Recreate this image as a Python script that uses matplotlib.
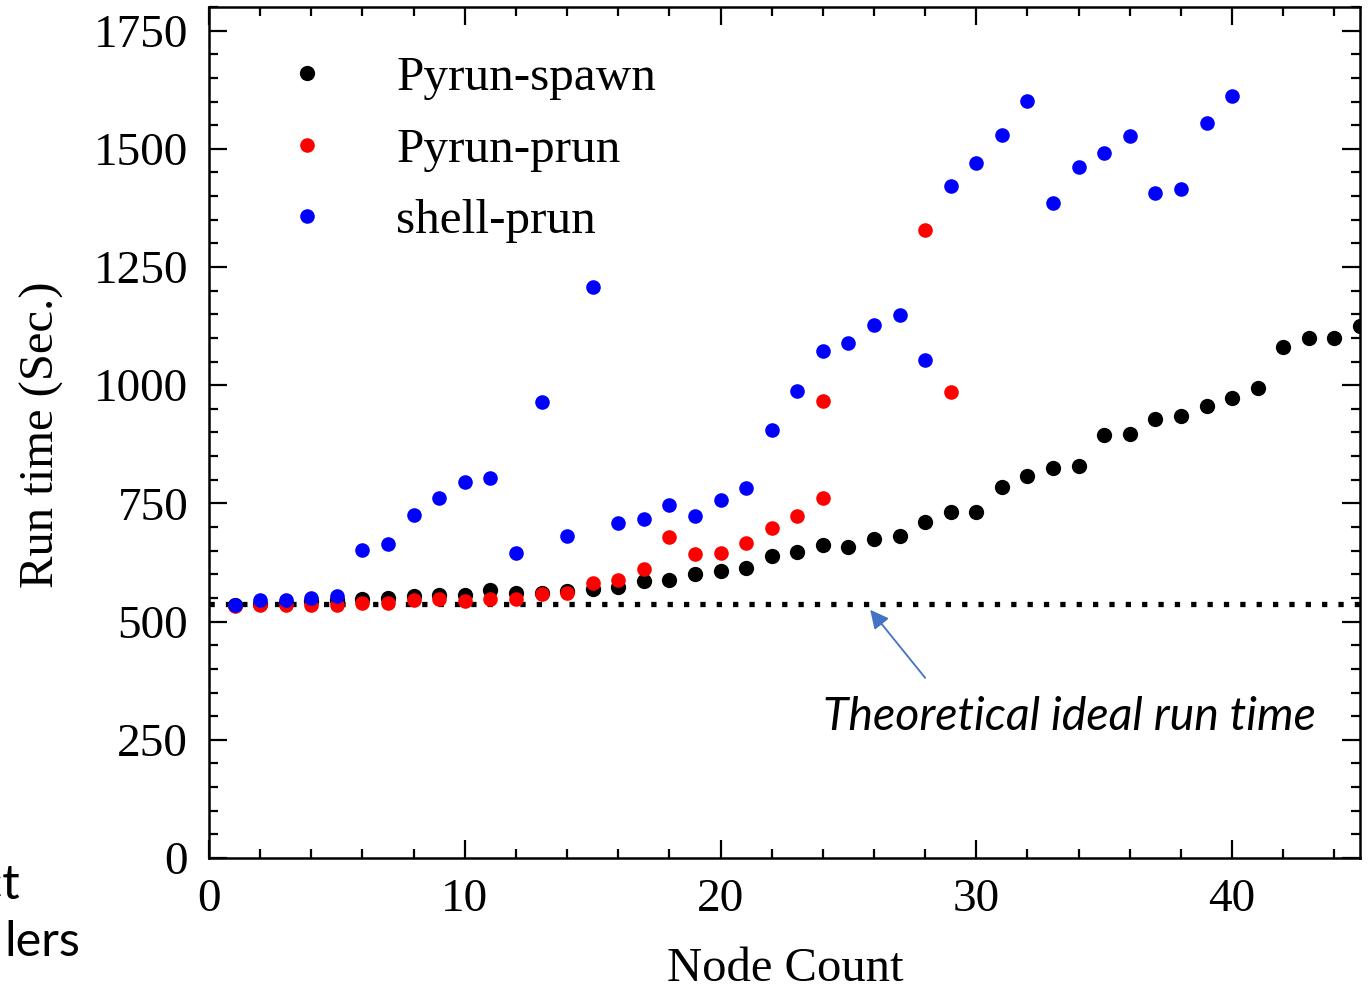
import matplotlib
matplotlib.use("Agg")
import matplotlib.pyplot as plt
from matplotlib.ticker import MultipleLocator

# ---- data ----
spawn_x = list(range(1, 46))
spawn_y = [535, 538, 540, 543, 545, 548, 549, 555, 557, 557,
           566, 561, 560, 565, 570, 574, 585, 589, 600, 606,
           614, 638, 648, 661, 657, 674, 682, 710, 731, 731,
           784, 809, 824, 830, 894, 896, 928, 934, 956, 972,
           994, 1080, 1100, 1100, 1125]

prun_x = list(range(1, 25)) + [24, 28, 29]
prun_y = [534, 536, 536, 536, 536, 540, 540, 545, 547, 543,
          548, 547, 559, 561, 582, 589, 612, 678, 644, 646,
          667, 699, 724, 761, 966, 1328, 985]

shell_x = list(range(1, 41))
shell_y = [536, 545, 545, 550, 555, 652, 665, 725, 761, 796,
           803, 646, 964, 682, 1208, 708, 718, 746, 724, 758,
           782, 905, 988, 1072, 1089, 1127, 1148, 1053, 1421, 1470,
           1530, 1602, 1386, 1462, 1491, 1528, 1407, 1415, 1555, 1612]

ideal_time = 537
series_labels = ["Pyrun-spawn", "Pyrun-prun", "shell-prun"]
annotation_text = "Theoretical ideal run time"

serif = ["Liberation Serif", "DejaVu Serif"]
sans = ["Lato", "Open Sans", "DejaVu Sans"]

fig = plt.figure(figsize=(13.7, 9.88), dpi=100)
ax = fig.add_axes([209/1370, 130/988, 1151/1370, 851/988])

ax.plot(spawn_x, spawn_y, 'o', color='black', ms=11, mec='none', label=series_labels[0])
ax.plot(prun_x, prun_y, 'o', color='#ff0000', ms=10.5, mec='none', label=series_labels[1])
ax.plot(shell_x, shell_y, 'o', color='#0000ff', ms=10.5, mec='none', label=series_labels[2])

ax.axhline(ideal_time, color='black', lw=3.8, linestyle=(0, (1, 2.1)), zorder=1)

ax.set_xlim(0, 45)
ax.set_ylim(0, 1800)
ax.xaxis.set_major_locator(MultipleLocator(10))
ax.xaxis.set_minor_locator(MultipleLocator(2))
ax.set_yticks([0, 250, 500, 750, 1000, 1250, 1500, 1750])
ax.yaxis.set_minor_locator(MultipleLocator(50))
ax.tick_params(which='both', direction='in', top=True, right=True, width=1.6)
ax.tick_params(which='major', length=13, pad=15, labelsize=34)
ax.tick_params(which='minor', length=6.5)
for s in ax.spines.values():
    s.set_linewidth(1.8)
for lab in ax.get_xticklabels() + ax.get_yticklabels():
    lab.set_fontfamily(serif)

ax.set_xlabel("Node Count", fontsize=35, family=serif)
ax.set_ylabel("Run time (Sec.)", fontsize=35, family=serif)
ax.xaxis.set_label_coords(0.5004, -0.105)
ax.yaxis.set_label_coords(-0.126, 0.497)

leg = ax.legend(loc='upper left', bbox_to_anchor=(0.0256, 0.995), frameon=False,
                prop={'family': serif, 'size': 35.5}, handletextpad=1.3,
                labelspacing=0.55, markerscale=1.0, handlelength=1.0)

ax.annotate("", xy=(25.85, 525), xytext=(28.0, 381),
            arrowprops=dict(arrowstyle='-|>', color='#4472C4', lw=1.3,
                            mutation_scale=28, shrinkA=0, shrinkB=0))
ax.text((1316-209)/1151*45, 298, annotation_text, ha='right', va='center',
        fontsize=33.5, style='italic', family=sans)

fig.text(20/1370, 1 - 885/988, "ct", ha='right', va='center', fontsize=35, family=sans)
fig.text(80/1370, 1 - 942/988, "lers", ha='right', va='center', fontsize=35, family=sans)

fig.savefig("out.png", dpi=100)
